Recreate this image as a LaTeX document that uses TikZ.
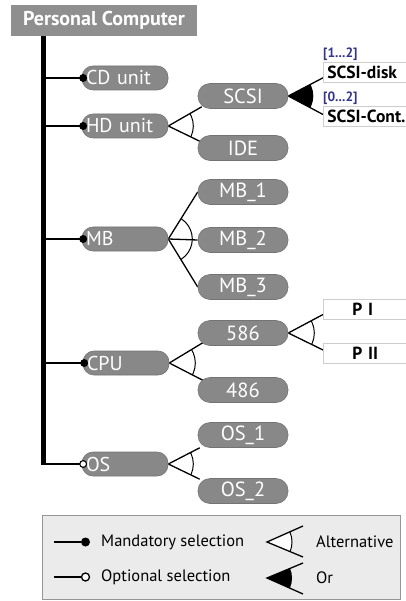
\documentclass[tikz,border=0pt]{standalone}
\usepackage{fontspec}
\setmainfont{PT Sans}
\usetikzlibrary{calc}
\pgfdeclarelayer{bg}
\pgfsetlayers{bg,main}
\definecolor{pill}{RGB}{136,136,136}
\definecolor{titlegray}{RGB}{143,143,143}
\definecolor{legendfill}{RGB}{235,235,235}
\definecolor{legendedge}{RGB}{150,150,150}
\definecolor{cardcol}{RGB}{52,52,138}
\definecolor{boxedge}{RGB}{205,205,205}
\tikzset{
  parent/.style={fill=pill, draw=pill!85!black, line width=0.6pt, rounded corners=11pt,
    minimum height=24pt, text width=78pt, inner xsep=4pt, inner ysep=0pt, align=left,
    text=white, font=\fontsize{20}{20}\selectfont, anchor=center},
  child/.style={fill=pill, draw=pill!85!black, line width=0.6pt, rounded corners=12pt,
    minimum height=25pt, minimum width=90pt, inner ysep=0pt, text=white,
    font=\fontsize{20.5}{20.5}\selectfont},
  leaf/.style={fill=white, draw=boxedge, line width=0.6pt, minimum height=20pt,
    text width=92pt, inner xsep=4pt, inner ysep=0pt, align=left, anchor=west,
    font=\bfseries\fontsize{17.5}{17.5}\selectfont},
  card/.style={text=cardcol, font=\bfseries\fontsize{13.5}{13.5}\selectfont, anchor=south west, inner sep=0pt},
  link/.style={line width=1.3pt},
  arcline/.style={line width=1pt},
  legtext/.style={anchor=west, inner sep=0pt, font=\fontsize{16.5}{16.5}\selectfont},
}
\begin{document}
\begin{tikzpicture}[x=1pt,y=-1pt]
\useasboundingbox (0,0) rectangle (406,601);

% root of the feature tree
\node[fill=titlegray, minimum width=186pt, minimum height=31pt, text=white,
  font=\bfseries\fontsize{20}{20}\selectfont, inner sep=0pt] (root) at (104,20.5) {Personal Computer};

% first level features
\node[parent] (cd)  at (125,78)  {CD unit};
\node[parent] (hd)  at (125,126) {HD unit};
\node[parent] (mb)  at (125,239) {MB};
\node[parent] (cpu) at (126,363) {CPU};
\node[parent] (os)  at (125,464) {OS};

% second level features
\node[child] (scsi) at (243,96)  {SCSI};
\node[child] (ide)  at (243,148) {IDE};
\node[child] (mb1)  at (243,192) {MB\_1};
\node[child] (mb2)  at (243,240) {MB\_2};
\node[child] (mb3)  at (243,287) {MB\_3};
\node[child] (c586) at (243,333) {586};
\node[child] (c486) at (243,390) {486};
\node[child] (os1)  at (243,435) {OS\_1};
\node[child] (os2)  at (243,491) {OS\_2};

% third level features
\node[leaf] (disk) at (323,72.5) {SCSI-disk};
\node[leaf] (cont) at (323,116.5) {SCSI-Cont.};
\node[leaf] (p1) at (323,309.5) {\hspace*{25pt}P I};
\node[leaf] (p2) at (323,353) {\hspace*{25pt}P II};
\node[card] (k1) at (323,61) {[1...2]};
\node[card] (k2) at (323,105) {[0...2]};

% trunk and branches
\coordinate (top) at (43,36);
\coordinate (bcd) at (43,78);
\coordinate (bhd) at (43,126);
\coordinate (bmb) at (43,239);
\coordinate (bcpu) at (43,363);
\coordinate (bos) at (43,464);

\begin{pgfonlayer}{bg}
  \draw[line width=5pt] (top) -- ([yshift=-0.5pt]bos);
  \draw[link] (bos) -- (os.west);
  \foreach \b/\n in {bcd/cd,bhd/hd,bmb/mb,bcpu/cpu}
    \draw[link] (\b) -- (\n.west);

  % HD unit: alternative
  \coordinate (hdA) at ($(scsi.south west)+(4,-2)$);
  \coordinate (hdB) at ($(ide.north west)+(4,7)$);
  \draw[link] (hdA) -- (hd.east) -- (hdB);
  % SCSI: or
  \coordinate (scA) at ($(disk.south west)+(0,-5)$);
  \coordinate (scB) at ($(cont.west)+(0,-2)$);
  \draw[link] (scA) -- (scsi.east) -- (scB);
  % MB: three-way alternative
  \draw[link] (mb1.west) -- (mb.east) -- (mb3.west);
  \draw[link] (mb.east) -- (mb2.west);
  % CPU: alternative
  \coordinate (cpA) at ($(c586.south west)+(5,-3)$);
  \coordinate (cpB) at ($(c486.north west)+(5,3)$);
  \draw[link] (cpA) -- (cpu.east) -- (cpB);
  % 586: alternative
  \coordinate (pA) at ($(p1.west)+(0,5)$);
  \coordinate (pB) at ($(p2.west)+(0,-3)$);
  \draw[link] (pA) -- (c586.east) -- (pB);
  % OS: alternative
  \coordinate (osA) at ($(os1.south west)+(2,0)$);
  \coordinate (osB) at ($(os2.north west)+(2,1)$);
  \draw[link] (osA) -- (os.east) -- (osB);
\end{pgfonlayer}

% group arcs
\begin{scope}
  \clip (hd.east) -- (hdA) -- (hdB) -- cycle;
  \draw[arcline] (hd.east) circle (25);
\end{scope}
\begin{scope}
  \clip (scsi.east) -- (scA) -- (scB) -- cycle;
  \fill (scsi.east) circle (25);
\end{scope}
\begin{scope}
  \clip (mb.east) -- (mb1.west) -- (mb3.west) -- cycle;
  \draw[arcline] (mb.east) circle (24);
\end{scope}
\begin{scope}
  \clip (cpu.east) -- (cpA) -- (cpB) -- cycle;
  \draw[arcline] (cpu.east) circle (26);
\end{scope}
\begin{scope}
  \clip (c586.east) -- (pA) -- (pB) -- cycle;
  \draw[arcline] (c586.east) circle (26);
\end{scope}
\begin{scope}
  \clip (os.east) -- (osA) -- (osB) -- cycle;
  \draw[arcline] (os.east) circle (25);
\end{scope}

% selection marks
\foreach \n in {cd,hd,mb,cpu}
  \fill ([xshift=1.5pt]\n.west) circle (4);
\draw[line width=1.1pt, fill=white] ([xshift=1.5pt]os.west) circle (3.4);

% legend
\node[draw=legendedge, fill=legendfill, line width=0.8pt, minimum width=358pt,
  minimum height=84pt, inner sep=0pt] (legend) at (221,557) {};
\coordinate (m0) at (54,542);
\coordinate (m1) at (81,542);
\coordinate (o0) at (54,577);
\coordinate (o1) at (81.5,577);
\draw[link] (m0) -- (m1);
\fill ([xshift=4.5pt]m1) circle (4.5);
\draw[link] (o0) -- (o1);
\draw[line width=1.3pt, fill=white] ([xshift=4pt]o1) circle (4);
\node[legtext] (lm) at (101,542) {Mandatory selection};
\node[legtext] (lo) at (101,577) {Optional selection};

\coordinate (alA) at (267,542);
\coordinate (al1) at (303,526);
\coordinate (al2) at (303,557);
\begin{scope}
  \clip (alA) -- (al1) -- (al2) -- cycle;
  \fill[white] (alA) circle (25);
  \draw[arcline] (alA) circle (25);
\end{scope}
\draw[link] (al1) -- (alA) -- (al2);
\node[legtext] (la) at (316,542) {Alternative};

\coordinate (orA) at (267,578);
\coordinate (or1) at (303,563);
\coordinate (or2) at (303,594);
\begin{scope}
  \clip (orA) -- (or1) -- (or2) -- cycle;
  \fill (orA) circle (25);
\end{scope}
\draw[link] (or1) -- (orA) -- (or2);
\node[legtext] (lr) at (316,578) {Or};
\end{tikzpicture}
\end{document}
